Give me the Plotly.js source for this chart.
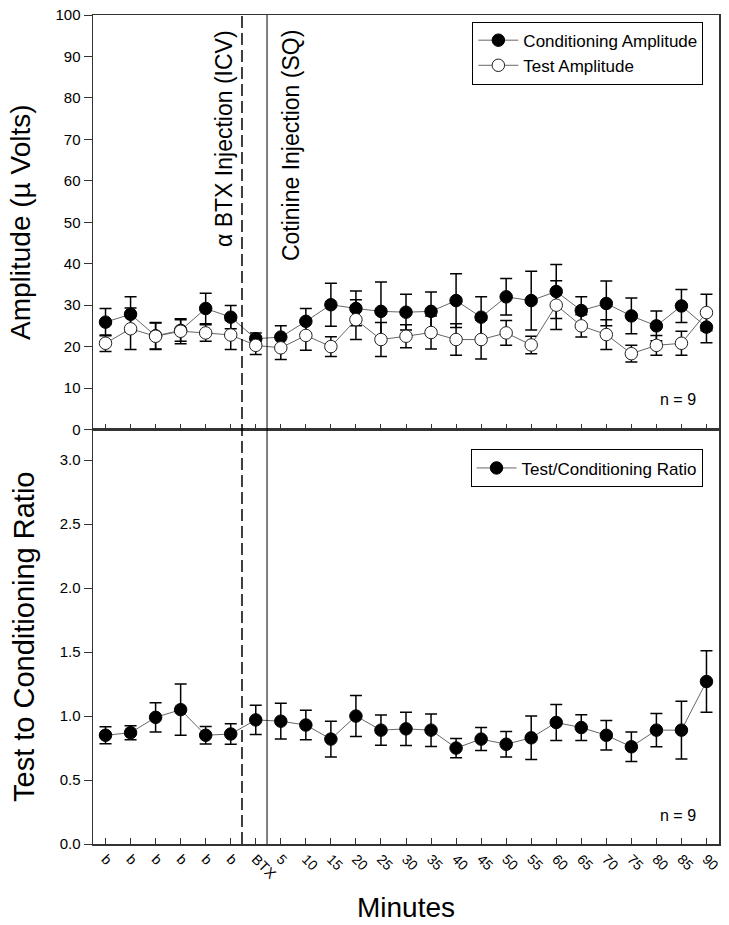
<!DOCTYPE html>
<html>
<head>
<meta charset="utf-8">
<script src="https://cdn.plot.ly/plotly-3.0.1.min.js"></script>
<style>html,body{margin:0;padding:0;background:#fff;}#chart{width:729px;height:925px;}</style>
</head>
<body>
<div id="chart"></div>
<script>
// Category tick labels
var tickLabels = ["b","b","b","b","b","b","BTX","5","10","15","20","25","30","35","40","45","50","55","60","65","70","75","80","85","90"];

// Top panel: amplitudes (µV) and error (SEM)
var condAmp    = [25.9,27.8,22.6,23.9,29.2,27.1,21.9,22.3,26.1,30.1,29.2,28.5,28.3,28.5,31.1,27.1,32.0,31.1,33.3,28.7,30.4,27.4,25.0,29.8,24.7];
var condAmpErr = [3.3,4.2,3.2,2.6,3.7,2.8,1.4,2.7,3.1,5.2,4.2,7.1,4.3,4.7,6.5,4.9,4.4,7.1,6.5,3.3,5.4,4.3,3.6,4.0,3.8];
var testAmp    = [20.8,24.3,22.5,23.7,23.3,22.8,20.3,19.7,22.7,20.0,26.5,21.7,22.5,23.4,21.7,21.7,23.3,20.4,30.0,25.0,22.9,18.3,20.3,20.8,28.2];
var testAmpErr = [2.0,5.0,3.2,3.0,2.0,3.5,2.2,2.8,3.6,2.4,4.8,4.1,2.8,4.0,3.8,4.7,3.0,2.1,5.9,2.7,3.6,2.0,2.4,2.9,4.4];

// Bottom panel: test / conditioning ratio and error
var ratio    = [0.85,0.87,0.99,1.05,0.85,0.86,0.97,0.96,0.93,0.82,1.00,0.89,0.90,0.89,0.75,0.82,0.78,0.83,0.95,0.91,0.85,0.76,0.89,0.89,1.27];
var ratioErr = [0.066,0.055,0.115,0.20,0.068,0.08,0.115,0.14,0.115,0.14,0.16,0.118,0.13,0.127,0.075,0.09,0.10,0.17,0.14,0.10,0.115,0.115,0.13,0.225,0.24];

// Event markers (between categories)
var btxInjectionX = 5.45;
var cotinineInjectionX = 6.45;

var xIdx = tickLabels.map(function(_, i){ return i; });
var FONT = "Arial, 'Liberation Sans', sans-serif";
var lineGray = "#666666";

function errBar(arr){
  return {type:"data", array:arr, visible:true, color:"#000", thickness:1.5, width:6};
}

var traces = [
  {
    x: xIdx, y: condAmp, xaxis:"x2", yaxis:"y2", type:"scatter", mode:"lines+markers",
    name:"Conditioning Amplitude", legend:"legend",
    line:{color:lineGray, width:1},
    marker:{size:12.5, color:"#000", line:{color:"#000", width:1}},
    error_y: errBar(condAmpErr)
  },
  {
    x: xIdx, y: testAmp, xaxis:"x2", yaxis:"y2", type:"scatter", mode:"lines+markers",
    name:"Test Amplitude", legend:"legend",
    line:{color:lineGray, width:1},
    marker:{size:12.5, color:"#fff", line:{color:"#222", width:1}},
    error_y: errBar(testAmpErr)
  },
  {
    x: xIdx, y: ratio, xaxis:"x", yaxis:"y", type:"scatter", mode:"lines+markers",
    name:"Test/Conditioning Ratio", legend:"legend2",
    line:{color:lineGray, width:1},
    marker:{size:12.5, color:"#000", line:{color:"#000", width:1}},
    error_y: errBar(ratioErr)
  }
];

var axisLine = {showline:true, linecolor:"#333", linewidth:1.5, mirror:true, zeroline:false, showgrid:false};

var layout = {
  width:729, height:925,
  paper_bgcolor:"#fff", plot_bgcolor:"#fff",
  margin:{l:93, r:10, t:15, b:81},
  font:{family:FONT, color:"#000", size:15},
  showlegend:true,
  xaxis: Object.assign({}, axisLine, {
    domain:[0,1], anchor:"y", range:[-0.5,24.5],
    tickmode:"array", tickvals:xIdx, ticktext:tickLabels,
    ticks:"inside", ticklen:6, tickwidth:1, tickcolor:"#333",
    tickangle:45, tickfont:{size:14, family:FONT},
    title:{text:"Minutes", font:{size:28, family:FONT}, standoff:16}
  }),
  xaxis2: Object.assign({}, axisLine, {
    domain:[0,1], anchor:"y2", matches:"x", range:[-0.5,24.5],
    tickmode:"array", tickvals:xIdx, showticklabels:false,
    ticks:"inside", ticklen:6, tickwidth:1, tickcolor:"#333"
  }),
  yaxis: Object.assign({}, axisLine, {
    domain:[0,0.5], anchor:"x", range:[0,3.24],
    tickmode:"array", tickvals:[0,0.5,1,1.5,2,2.5,3], ticktext:["0.0","0.5","1.0","1.5","2.0","2.5","3.0"],
    ticks:"outside", ticklen:8, tickwidth:1, tickcolor:"#333",
    tickfont:{size:15, family:FONT},
    title:{text:"Test to Conditioning Ratio", font:{size:29, family:FONT}, standoff:16}
  }),
  yaxis2: Object.assign({}, axisLine, {
    domain:[0.5,1], anchor:"x2", range:[0,100],
    tickmode:"array", tickvals:[0,10,20,30,40,50,60,70,80,90,100],
    ticks:"outside", ticklen:8, tickwidth:1, tickcolor:"#333",
    tickfont:{size:15, family:FONT},
    title:{text:"Amplitude (µ Volts)", font:{size:28, family:FONT}, standoff:16}
  }),
  legend:{
    x:0.975, xanchor:"right", y:0.992, yanchor:"top",
    bgcolor:"#fff", bordercolor:"#000", borderwidth:1,
    font:{size:17, family:FONT}, tracegroupgap:0, itemwidth:40
  },
  legend2:{
    x:0.9737, xanchor:"right", y:0.476, yanchor:"top",
    bgcolor:"#fff", bordercolor:"#000", borderwidth:1,
    font:{size:17, family:FONT}, itemwidth:40
  },
  shapes:[
    {type:"line", xref:"x", yref:"paper", x0:btxInjectionX, x1:btxInjectionX, y0:0, y1:1,
     line:{color:"#000", width:1.5, dash:"12px,5px"}},
    {type:"line", xref:"x", yref:"paper", x0:cotinineInjectionX, x1:cotinineInjectionX, y0:0, y1:1,
     line:{color:"#000", width:1}}
  ],
  annotations:[
    {text:"α BTX Injection (ICV)", xref:"x", yref:"paper", x:4.74, y:0.984, xanchor:"center", yanchor:"top",
     textangle:-90, showarrow:false, font:{size:23, family:FONT}},
    {text:"Cotinine Injection (SQ)", xref:"x", yref:"paper", x:7.38, y:0.984, xanchor:"center", yanchor:"top",
     textangle:-90, showarrow:false, font:{size:23, family:FONT}},
    {text:"n = 9", xref:"paper", yref:"paper", x:0.935, y:0.536, xanchor:"center", yanchor:"middle",
     showarrow:false, font:{size:16, family:FONT}},
    {text:"n = 9", xref:"paper", yref:"paper", x:0.935, y:0.034, xanchor:"center", yanchor:"middle",
     showarrow:false, font:{size:16, family:FONT}}
  ]
};

Plotly.newPlot("chart", traces, layout, {displayModeBar:false, staticPlot:true});
</script>
</body>
</html>
